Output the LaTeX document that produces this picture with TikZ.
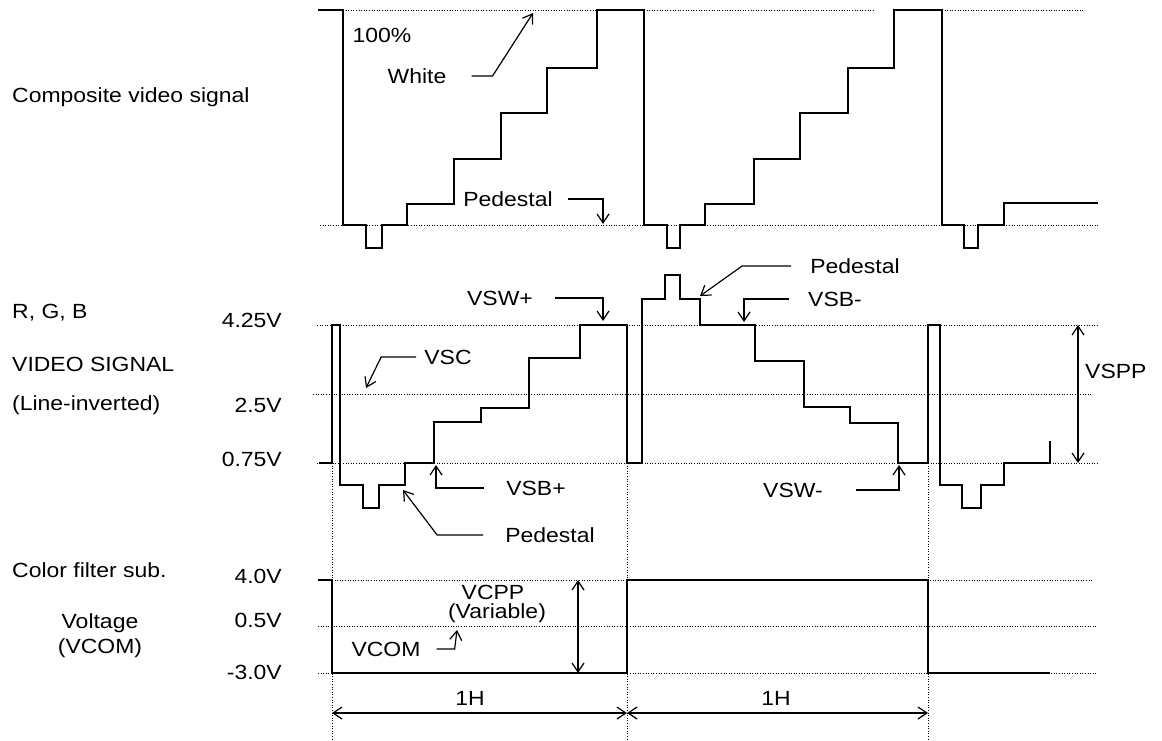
\documentclass[tikz,border=0pt]{standalone}
\usepackage{fontspec}
\setmainfont{Liberation Sans}[FakeStretch=1.12]
\usetikzlibrary{arrows.meta}
\tikzset{
    sig/.style={line width=2.8pt},
    guide/.style={line width=0.8pt, dash pattern=on 1pt off 1.6pt},
    callout/.style={line width=1.2pt, -{Straight Barb[length=9pt,width=12pt]}},
    span/.style={line width=1.2pt, {Straight Barb[length=9pt,width=12pt]}-{Straight Barb[length=9pt,width=12pt]}},
}
\begin{document}
\begin{tikzpicture}[x=1pt, y=-1pt, font=\fontsize{20.5}{24}\selectfont]
\useasboundingbox (0,0) rectangle (1162,741);
\begin{scope}[every node/.style={inner sep=0pt}]
    \node[anchor=mid west] (cvs) at (12,100) {Composite video signal};
    \node[anchor=mid west] (rgb) at (12,316) {R, G, B};
    \node[anchor=mid west] (vsig) at (12,369) {VIDEO SIGNAL};
    \node[anchor=mid west] (linv) at (12,408) {(Line-inverted)};
    \node[anchor=mid west] (cfs) at (12,575) {Color filter sub.};
    \node (volt) at (100,623) {Voltage};
    \node (vcoml) at (100,648) {(VCOM)};
    \node[anchor=mid east] (v425) at (282,325) {4.25V};
    \node[anchor=mid east] (v25) at (282,410) {2.5V};
    \node[anchor=mid east] (v075) at (282,464) {0.75V};
    \node[anchor=mid east] (v40) at (282,581) {4.0V};
    \node[anchor=mid east] (v05) at (282,625) {0.5V};
    \node[anchor=mid east] (vm30) at (282,677) {-3.0V};
    \node (full) at (382,35) {100\%};
    \node (white) at (417,76) {White};
    \node (pedt) at (508,199) {Pedestal};
    \node (vsc) at (448,357) {VSC};
    \node (vswp) at (500,298) {VSW+};
    \node (vsbp) at (536,488) {VSB+};
    \node (pedb) at (550,535) {Pedestal};
    \node (pedm) at (855,266) {Pedestal};
    \node (vsbm) at (835,299) {VSB-};
    \node (vswm) at (793,490) {VSW-};
    \node[anchor=mid west] (vspp) at (1085,376) {VSPP};
    \node (vcpp) at (493,592) {VCPP};
    \node (vari) at (497,613) {(Variable)};
    \node (vcom) at (386,649) {VCOM};
    \node (h1) at (470,698) {1H};
    \node (h2) at (776,698) {1H};
\end{scope}
\coordinate (tWhite) at (533,13);
\coordinate (tPedT) at (603,224);
\coordinate (tVSC) at (366,388);
\coordinate (tVSWp) at (603,321);
\coordinate (tVSBp) at (436,465);
\coordinate (tPedB) at (403,490);
\coordinate (tPedM) at (700,296);
\coordinate (tVSBm) at (744,322);
\coordinate (tVSWm) at (899,465);
\coordinate (tVCOM) at (457,630);
\begin{scope}[guide]
    \draw (343,10) -- (597,10);
    \draw (644,10) -- (874,10);
    \draw (942,10) -- (1083,10);
    \draw (320,225) -- (1099,225);
    \draw (317,325) -- (1099,325);
    \draw (313,394) -- (1093,394);
    \draw (317,463) -- (1099,463);
    \draw (332,580) -- (1092,580);
    \draw (318,626) -- (1097,626);
    \draw (318,673) -- (1097,673);
    \draw (332,463) -- (332,741);
    \draw (627,463) -- (627,741);
    \draw (928,463) -- (928,741);
\end{scope}
\draw[sig] (318,10) -| (343,225) -| (366,248) -| (382,225) -| (407,204) -| (454,159) -| (501,113) -| (547,68) -| (597,10) -| (644,225) -| (667,248) -| (680,225) -| (705,204) -| (754,159) -| (800,113) -| (848,68) -| (894,10) -| (942,225) -| (964,248) -| (978,225) -| (1004,203) -- (1098,203);
\draw[sig] (319,463) -| (332,325) -| (340,485) -| (363,508) -| (379,485) -| (405,463) -| (434,422) -| (481,408) -| (529,358) -| (580,325) -| (627,463) -| (642,299) -| (665,275) -| (680,299) -| (700,325) -| (755,361) -| (804,407) -| (850,423) -| (898,463) -| (928,325) -| (940,485) -| (962,508) -| (981,485) -| (1004,463) -| (1050,441);
\draw[sig] (318,580) -| (332,673) -| (627,580) -| (928,673) -- (1050,673);
\draw[callout] ([xshift=25pt]white.east) -- ++(21,0) -- (tWhite);
\draw[callout] ([xshift=15pt]pedt.east) -| (tPedT);
\draw[callout] ([xshift=-8pt]vsc.west) -- ++(-35,0) -- (tVSC);
\draw[callout] ([xshift=22pt]vswp.east) -| (tVSWp);
\draw[callout] ([xshift=-22pt]vsbp.west) -| (tVSBp);
\draw[callout] ([xshift=-22pt]pedb.west) -- ++(-46,0) -- (tPedB);
\draw[callout] ([xshift=-19pt]pedm.west) -- ++(-49,0) -- (tPedM);
\draw[callout] ([xshift=-19pt]vsbm.west) -| (tVSBm);
\draw[callout] ([xshift=33pt]vswm.east) -| (tVSWm);
\draw[callout] ([xshift=16pt]vcom.east) -- ++(18,0) -- (tVCOM);
\coordinate (vsppT) at (1078,325);
\coordinate (vsppB) at (1078,463);
\coordinate (vcppT) at (578,580);
\coordinate (vcppB) at (578,673);
\coordinate (hA) at (332,713);
\coordinate (hB) at (627,713);
\coordinate (hC) at (928,713);
\draw[span] (vsppT) -- (vsppB);
\draw[span] (vcppT) -- (vcppB);
\draw[span] (hA) -- (hB);
\draw[span] (hB) -- (hC);
\end{tikzpicture}
\end{document}
